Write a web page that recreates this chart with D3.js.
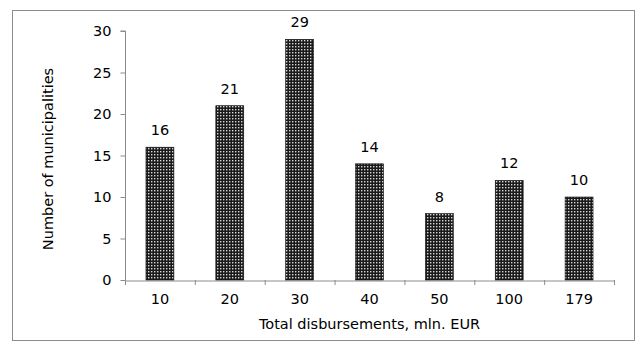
<!DOCTYPE html>
<html><head><meta charset="utf-8">
<script src="https://cdn.jsdelivr.net/npm/d3@7"></script>
<style>body{margin:0;background:#fff}svg{display:block}</style>
</head><body>
<script>
const categories = ["10","20","30","40","50","100","179"];
const values = [16,21,29,14,8,12,10];
const yTicks = [0,5,10,15,20,25,30];

const W=637,H=351;
const FF="'DejaVu Sans', Verdana, sans-serif";
const FS=14.5;
const svg=d3.select("body").append("svg").attr("width",W).attr("height",H)
  .style("font-family",FF);
const defs=svg.append("defs");
const pat=defs.append("pattern").attr("id","dots").attr("patternUnits","userSpaceOnUse")
  .attr("width",3).attr("height",3);
pat.append("rect").attr("width",3).attr("height",3).attr("fill","#1a1a1a");
pat.append("rect").attr("x",1).attr("y",1).attr("width",1.4).attr("height",1.4).attr("fill","#d8d8d8");

svg.append("rect").attr("x",12.5).attr("y",10.5).attr("width",622).attr("height",330)
  .attr("fill","#fff").attr("stroke","#8c8c8c").attr("stroke-width",1);

const m={l:125,r:614,t:31,b:280};
const x=d3.scaleBand().domain(categories).range([m.l,m.r]).paddingInner(0.6).paddingOuter(0.3);
const y=d3.scaleLinear().domain([0,30]).range([m.b,m.t]);

const xb=d3.scaleBand().domain(categories).range([m.l,m.r]);
const ya=svg.append("g").attr("transform",`translate(${m.l+0.5},0)`)
  .call(d3.axisLeft(y).tickValues(yTicks).tickSize(5).tickPadding(9));
ya.attr("font-family",FF).attr("font-size",FS);
ya.select(".domain").attr("stroke","#8c8c8c").attr("d",`M-5,${y(30)}H0V${y(0)}`);
ya.selectAll(".tick line").attr("stroke","#8c8c8c");
ya.selectAll(".tick text").attr("fill","#000");

const xa=svg.append("g").attr("transform",`translate(0,${m.b+0.5})`)
  .call(d3.axisBottom(xb).tickSize(0).tickPadding(13));
xa.attr("font-family",FF).attr("font-size",FS);
xa.select(".domain").attr("stroke","#8c8c8c");
xa.selectAll(".tick text").attr("fill","#000");
const bounds=categories.map(c=>xb(c)).concat([m.r]);
svg.append("g").selectAll("line").data(bounds).join("line")
  .attr("x1",d=>d+0.5).attr("x2",d=>d+0.5).attr("y1",m.b).attr("y2",m.b+5)
  .attr("stroke","#8c8c8c");

svg.append("g").selectAll("rect").data(values).join("rect")
  .attr("x",(d,i)=>x(categories[i])).attr("width",x.bandwidth())
  .attr("y",d=>y(d)).attr("height",d=>y(0)-y(d))
  .attr("fill","url(#dots)").attr("stroke","#111").attr("stroke-width",0.6);

svg.append("g").selectAll("text").data(values).join("text")
  .attr("x",(d,i)=>x(categories[i])+x.bandwidth()/2).attr("y",d=>y(d)-12)
  .attr("text-anchor","middle").attr("font-size",FS).text(d=>d);

svg.append("text").attr("x",(m.l+m.r)/2).attr("y",329).attr("text-anchor","middle")
  .attr("font-size",FS).text("Total disbursements, mln. EUR");
svg.append("text").attr("transform",`translate(53,${(60+258)/2}) rotate(-90)`)
  .attr("text-anchor","middle").attr("font-size",FS).text("Number of municipalities");
</script>
</body></html>
